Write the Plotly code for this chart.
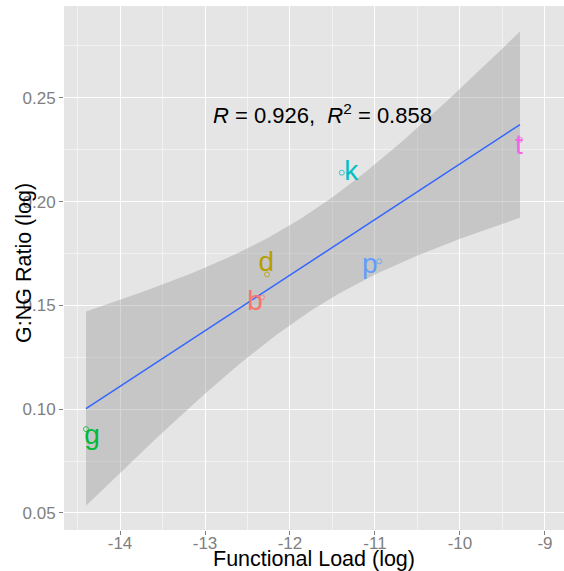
import numpy as np
import plotly.graph_objects as go

# data
labels = ["b", "d", "g", "k", "p", "t"]
func_load = [-12.33, -12.27, -14.40, -11.39, -10.95, -9.294]
gng_ratio = [0.1538, 0.1649, 0.0904, 0.2139, 0.1712, 0.2298]
label_x = [-12.41, -12.28, -14.33, -11.28, -11.06, -9.306]
label_y = [0.1510, 0.1697, 0.0865, 0.2139, 0.1688, 0.2264]
colors = ["#F8766D", "#B79F00", "#00BA38", "#00BFC4", "#619CFF", "#F564E3"]
x_ticks = [-14, -13, -12, -11, -10, -9]
y_ticks = [0.05, 0.10, 0.15, 0.20, 0.25]
t_crit = 2.7764  # t(0.975, df=4)
annotation_text = "<i>R</i> = 0.926,  <i>R</i><sup>2</sup> = 0.858"
x_title = "Functional Load (log)"
y_title = "G:NG Ratio (log)"

x = np.array(func_load)
y = np.array(gng_ratio)
n = len(x)
slope, intercept = np.polyfit(x, y, 1)
xs = np.linspace(x.min(), x.max(), 80)
ys = intercept + slope * xs
resid = y - (intercept + slope * x)
s = np.sqrt(np.sum(resid ** 2) / (n - 2))
sxx = np.sum((x - x.mean()) ** 2)
se = s * np.sqrt(1.0 / n + (xs - x.mean()) ** 2 / sxx)
upper = ys + t_crit * se
lower = ys - t_crit * se

fig = go.Figure()
fig.add_trace(go.Scatter(
    x=np.concatenate([xs, xs[::-1]]), y=np.concatenate([upper, lower[::-1]]),
    fill="toself", fillcolor="rgba(153,153,153,0.4)", line=dict(width=0),
    mode="lines", hoverinfo="skip", showlegend=False))
fig.add_trace(go.Scatter(x=xs, y=ys, mode="lines",
                         line=dict(color="#3366FF", width=1.5), showlegend=False))
fig.add_trace(go.Scatter(x=func_load, y=gng_ratio, mode="markers",
                         marker=dict(symbol="circle-open", size=5, color=colors,
                                     line=dict(width=0.8, color=colors)),
                         showlegend=False))
fig.add_trace(go.Scatter(x=label_x, y=label_y, mode="text", text=labels,
                         textfont=dict(family="Liberation Sans", size=28, color=colors),
                         textposition="middle center", showlegend=False))

fig.add_annotation(x=-11.62, y=0.2420, text=annotation_text, showarrow=False,
                   font=dict(family="Liberation Sans", size=22, color="black"),
                   xanchor="center", yanchor="middle")

# axis titles as annotations placed like the reference
fig.add_annotation(x=0.5, y=0, xref="paper", yref="paper", text=x_title,
                   showarrow=False, xanchor="center", yanchor="middle", yshift=-29,
                   font=dict(family="Liberation Sans", size=21.5, color="black"))
fig.add_annotation(x=0, y=0.5, xref="paper", yref="paper", text=y_title,
                   showarrow=False, xanchor="center", yanchor="middle",
                   xshift=-40, yshift=5, textangle=-90,
                   font=dict(family="Liberation Sans", size=21.5, color="black"))

axis_common = dict(
    showgrid=True, gridcolor="white", gridwidth=1.2,
    zeroline=False, showline=False,
    ticks="outside", ticklen=4, tickcolor="#7F7F7F", tickwidth=1,
    tickfont=dict(family="Liberation Sans", size=17, color="#7F7F7F"),
    minor=dict(showgrid=True, gridcolor="#F2F2F2", gridwidth=0.6),
)

fig.update_xaxes(range=[-14.659, -8.776], tickvals=x_ticks,
                 ticktext=[str(v) for v in x_ticks], ticklabelstandoff=-6,
                 **axis_common)
fig.update_yaxes(range=[0.0418, 0.2942], tickvals=y_ticks,
                 ticktext=["%.2f" % v for v in y_ticks], **axis_common)
fig.update_xaxes(minor=dict(tickvals=[v + 0.5 for v in [-15] + x_ticks], ticks=""))
fig.update_yaxes(minor=dict(tickvals=[v + 0.025 for v in [0.025] + y_ticks], ticks=""))

fig.update_layout(width=564, height=571, margin=dict(l=64, r=0, t=6, b=41),
                  plot_bgcolor="#E5E5E5", paper_bgcolor="white",
                  font=dict(family="Liberation Sans"))
fig.write_html("out.html")
